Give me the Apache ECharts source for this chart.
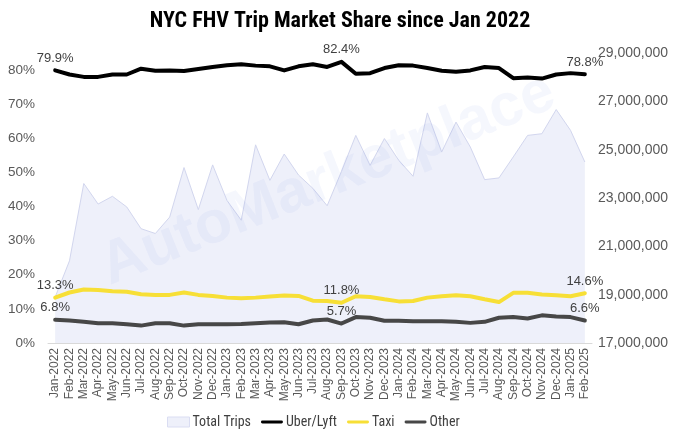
<!DOCTYPE html>
<html>
<head>
<meta charset="utf-8">
<script src="https://cdn.jsdelivr.net/npm/echarts@6/dist/echarts.min.js"></script>
<style>
  html, body { margin: 0; padding: 0; background: #fff; }
  #chart { width: 680px; height: 442px; }
</style>
</head>
<body>
<div id="chart"></div>
<script>
// 数据
const months = ['Jan-2022', 'Feb-2022', 'Mar-2022', 'Apr-2022', 'May-2022', 'Jun-2022', 'Jul-2022', 'Aug-2022',
    'Sep-2022', 'Oct-2022', 'Nov-2022', 'Dec-2022', 'Jan-2023', 'Feb-2023', 'Mar-2023', 'Apr-2023', 'May-2023',
    'Jun-2023', 'Jul-2023', 'Aug-2023', 'Sep-2023', 'Oct-2023', 'Nov-2023', 'Dec-2023', 'Jan-2024', 'Feb-2024',
    'Mar-2024', 'Apr-2024', 'May-2024', 'Jun-2024', 'Jul-2024', 'Aug-2024', 'Sep-2024', 'Oct-2024', 'Nov-2024',
    'Dec-2024', 'Jan-2025', 'Feb-2025'];

const totalTrips = [18900000, 20400000, 23600000, 22750000, 23070000, 22630000, 21730000, 21530000, 22210000,
    24260000, 22520000, 24370000, 22900000, 22080000, 25200000, 23730000, 24820000, 23950000, 23400000, 22680000,
    24100000, 25590000, 24350000, 25460000, 24560000, 23900000, 26520000, 24900000, 26140000, 25110000, 23760000,
    23830000, 24700000, 25590000, 25660000, 26660000, 25800000, 24490000];

const uberLyft = [79.9, 78.7, 78.0, 78.0, 78.7, 78.7, 80.4, 79.8, 79.9, 79.7, 80.3, 80.9, 81.4, 81.7, 81.3, 81.1,
    79.9, 81.1, 81.7, 80.9, 82.4, 78.9, 79.1, 80.6, 81.4, 81.3, 80.6, 79.8, 79.5, 79.9, 80.9, 80.6, 77.6, 77.8,
    77.5, 78.7, 79.1, 78.8];

const taxi = [13.3, 14.8, 15.7, 15.5, 15.2, 15.0, 14.3, 14.1, 14.1, 14.8, 14.1, 13.8, 13.3, 13.1, 13.3, 13.6,
    13.9, 13.8, 12.4, 12.3, 11.8, 13.7, 13.5, 12.8, 12.2, 12.3, 13.3, 13.7, 14.0, 13.7, 12.8, 12.0, 14.7, 14.7,
    14.2, 14.0, 13.7, 14.6];

const other = [6.8, 6.6, 6.2, 5.8, 5.8, 5.5, 5.1, 5.8, 5.8, 5.1, 5.5, 5.5, 5.5, 5.6, 5.8, 6.0, 6.1, 5.5, 6.6,
    6.9, 5.7, 7.6, 7.4, 6.5, 6.5, 6.4, 6.4, 6.4, 6.2, 5.9, 6.2, 7.4, 7.6, 7.2, 8.1, 7.8, 7.6, 6.6];

// 显示数据标签的位置: Jan-2022, Sep-2023, Feb-2025
const labelIdx = [0, 20, 37];

const chart = echarts.init(document.getElementById('chart'));

const lineIcon = 'path://M2,0h26a2,2,0,0,1,0,4h-26a2,2,0,0,1,0,-4z';
const narrowFont = '"Liberation Sans Narrow", "Arial Narrow", "Roboto Condensed", sans-serif';
const plainFont = '"Liberation Sans", Arial, sans-serif';

function withLabels(arr) {
    return arr.map(function(v, i) {
        if (labelIdx.indexOf(i) < 0) return v;
        return { value: v, symbol: 'circle', symbolSize: 1, label: { show: true } };
    });
}

function shareLine(name, arr, color) {
    return {
        name: name,
        type: 'line',
        yAxisIndex: 0,
        data: withLabels(arr),
        symbol: 'none',
        lineStyle: { color: color, width: 4, cap: 'round', join: 'round' },
        itemStyle: { color: color },
        label: {
            show: false,
            position: 'top',
            distance: 5,
            fontSize: 13,
            fontFamily: plainFont,
            color: '#404040',
            formatter: function(p) { return p.value.toFixed(1) + '%'; }
        },
        emphasis: { disabled: true },
        z: 3
    };
}

const option = {
    animation: false,
    backgroundColor: '#ffffff',
    title: {
        text: 'NYC FHV Trip Market Share since Jan 2022',
        left: 'center',
        top: 5,
        textStyle: {
            fontSize: 22,
            fontWeight: 'bold',
            color: '#000',
            fontFamily: narrowFont
        }
    },
    graphic: [{
        type: 'text',
        x: 328,
        y: 180,
        rotation: 0.38,
        z: 10,
        silent: true,
        style: {
            text: 'AutoMarketplace',
            font: 'bold 60px "Liberation Sans", Arial, sans-serif',
            fill: 'rgba(110, 140, 230, 0.07)',
            align: 'center',
            verticalAlign: 'middle'
        }
    }],
    legend: {
        left: 162,
        top: 410,
        itemWidth: 22,
        itemHeight: 10,
        itemGap: 10,
        symbolKeepAspect: true,
        textStyle: { fontSize: 14, color: '#404040', fontFamily: narrowFont, padding: [0, 0, 0, -2] },
        data: [
            { name: 'Total Trips', icon: 'rect', itemStyle: { color: '#EEF0FA', borderColor: '#DADDF2', borderWidth: 1 } },
            { name: 'Uber/Lyft', icon: lineIcon, itemStyle: { color: '#000000' } },
            { name: 'Taxi', icon: lineIcon, itemStyle: { color: '#F7DF36' } },
            { name: 'Other', icon: lineIcon, itemStyle: { color: '#474747' } }
        ]
    },
    grid: {
        left: 48,
        right: 88,
        top: 53,
        bottom: 99,
        containLabel: false
    },
    xAxis: {
        type: 'category',
        data: months,
        boundaryGap: true,
        axisLine: { lineStyle: { color: '#D9D9D9', width: 1 } },
        axisTick: { show: false },
        axisLabel: {
            interval: 0,
            rotate: 90,
            fontSize: 12,
            color: '#595959',
            margin: 5,
            fontFamily: plainFont
        },
        splitLine: { show: false }
    },
    yAxis: [
        {
            type: 'value',
            min: 0,
            max: 85,
            interval: 10,
            axisLine: { show: false },
            axisTick: { show: false },
            splitLine: { show: false },
            axisLabel: {
                showMaxLabel: false,
                formatter: '{value}%',
                fontSize: 13.5,
                color: '#595959',
                margin: 13,
                fontFamily: plainFont
            }
        },
        {
            type: 'value',
            min: 17000000,
            max: 29000000,
            interval: 2000000,
            position: 'right',
            axisLine: { show: false },
            axisTick: { show: false },
            splitLine: { show: false },
            axisLabel: {
                fontSize: 14,
                color: '#595959',
                margin: 6,
                fontFamily: plainFont,
                formatter: function(v) { return v.toLocaleString('en-US'); }
            }
        }
    ],
    series: [
        {
            name: 'Total Trips',
            type: 'line',
            yAxisIndex: 1,
            data: totalTrips,
            symbol: 'none',
            lineStyle: { color: '#D2D6EE', width: 1 },
            itemStyle: { color: '#EEF0FA' },
            areaStyle: { color: '#EEF0FA', opacity: 1, origin: 'start' },
            emphasis: { disabled: true },
            z: 1
        },
        shareLine('Uber/Lyft', uberLyft, '#000000'),
        shareLine('Taxi', taxi, '#F7DF36'),
        shareLine('Other', other, '#474747')
    ]
};

chart.setOption(option);
</script>
</body>
</html>
